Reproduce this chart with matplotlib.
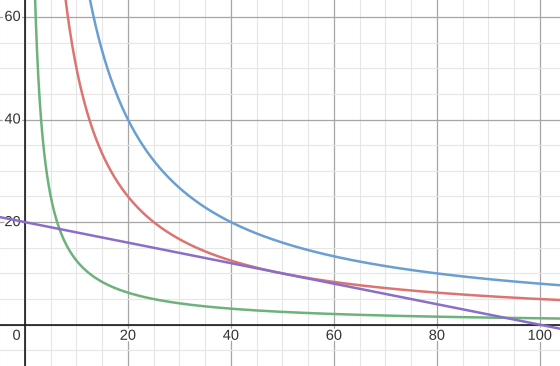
import numpy as np
import matplotlib
matplotlib.use("Agg")
import matplotlib.pyplot as plt
import matplotlib.patheffects as pe

plt.rcParams['font.family'] = ['Liberation Sans', 'DejaVu Sans']

# Curves y = k / x
hyper_k = [800, 500, 125]
hyper_colors = ["#6a9fd2", "#dc7471", "#6cb27a"]
# Straight line y = intercept + slope * x
line_intercept = 20
line_slope = -0.2
line_color = "#8a6fc9"

x_ticks = [20, 40, 60, 80, 100]
y_ticks = [20, 40, 60]

xmin, xmax = -4.85, 103.9
ymin, ymax = -8.05, 63.3

fig = plt.figure(figsize=(5.6, 3.66), dpi=100)
ax = fig.add_axes([0, 0, 1, 1])
ax.set_xlim(xmin, xmax)
ax.set_ylim(ymin, ymax)
for s in ax.spines.values():
    s.set_visible(False)
ax.set_xticks([])
ax.set_yticks([])

# grid
for gx in np.arange(-5, 105, 5):
    major = gx % 20 == 0
    ax.axvline(gx, color="#a6a6a6" if major else "#e6e6e6", lw=0.9 if major else 0.8, zorder=0)
for gy in np.arange(-5, 65, 5):
    major = gy % 20 == 0
    ax.axhline(gy, color="#a6a6a6" if major else "#e6e6e6", lw=0.9 if major else 0.8, zorder=0)
ax.axvline(0, color="#1a1a1a", lw=1.2, zorder=1)
ax.axhline(0, color="#1a1a1a", lw=1.2, zorder=1)

for k, c in zip(hyper_k, hyper_colors):
    xs = np.linspace(k / (ymax + 5), xmax + 1, 2000)
    ax.plot(xs, k / xs, color=c, lw=1.8, zorder=3, solid_capstyle="round")

xs = np.linspace(xmin - 1, xmax + 1, 200)
ax.plot(xs, line_intercept + line_slope * xs, color=line_color, lw=1.8, zorder=3)

halo = [pe.withStroke(linewidth=3, foreground="white")]
for t in x_ticks:
    ax.annotate(str(t), (t, 0), xytext=(0, -8), textcoords="offset points",
                ha="center", va="center", fontsize=10.5, color="#333333",
                path_effects=halo, zorder=2)
for t in y_ticks:
    ax.annotate(str(t), (0, t), xytext=(-3, 0), textcoords="offset points",
                ha="right", va="center", fontsize=10.5, color="#333333",
                path_effects=halo, zorder=2)
ax.annotate("0", (0, 0), xytext=(-6, -8), textcoords="offset points",
            ha="center", va="center", fontsize=10.5, color="#333333",
            path_effects=halo, zorder=2)

fig.savefig("out.png", dpi=100)
